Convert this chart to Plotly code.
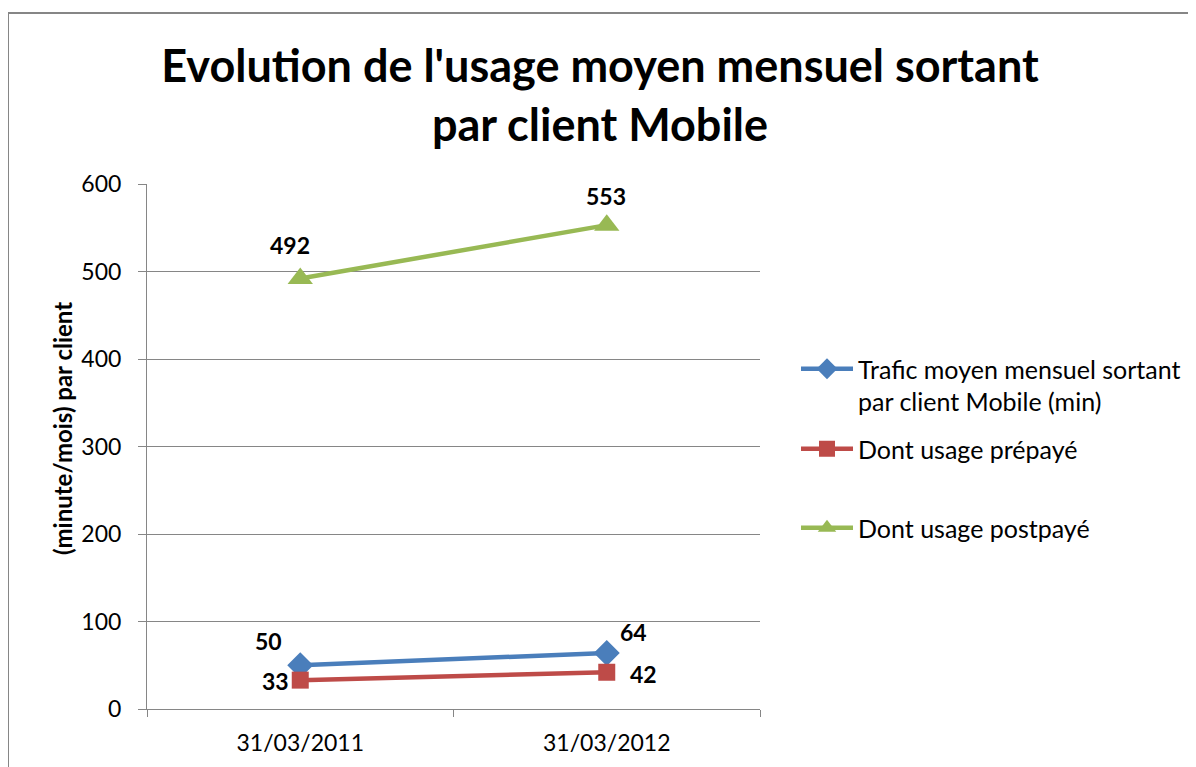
import plotly.graph_objects as go

categories = ["31/03/2011", "31/03/2012"]
trafic_moyen = [50, 64]
usage_prepaye = [33, 42]
usage_postpaye = [492, 553]
series_names = ["Trafic moyen mensuel sortant<br>par client Mobile (min)",
                "Dont usage prépayé", "Dont usage postpayé"]
y_ticks = [0, 100, 200, 300, 400, 500, 600]

FONT = "Lato"
blue, red, green = "#4A7EBB", "#BE4B48", "#98B954"

# the page body has an 8px margin: the figure is sized/offset to compensate
W, H = 1188, 759
L, R, T, B = 139, 436, 176, 58
PW, PH = W - L - R, H - T - B


def px_x(sx):  # screen x -> paper x
    return (sx - 8 - L) / PW


def px_y(sy):  # screen y -> paper y
    return (H - B - (sy - 8)) / PH


fig = go.Figure()
fig.add_trace(go.Scatter(x=categories, y=trafic_moyen, name=series_names[0],
                         mode="lines+markers", line=dict(color=blue, width=4.5),
                         marker=dict(symbol="diamond", size=20, color=blue),
                         legend="legend"))
fig.add_trace(go.Scatter(x=categories, y=usage_prepaye, name=series_names[1],
                         mode="lines+markers", line=dict(color=red, width=4.5),
                         marker=dict(symbol="square", size=17, color=red),
                         legend="legend2"))
fig.add_trace(go.Scatter(x=categories, y=usage_postpaye, name=series_names[2],
                         mode="lines+markers", line=dict(color=green, width=4.5),
                         marker=dict(symbol="triangle-up", size=22, color=green),
                         legend="legend3"))

lab_font = dict(family=FONT, size=23, color="black", weight="bold")
offsets = {
    0: [(-32, 24), (27, 21)],
    1: [(-25, -1), (37, -2)],
    2: [(-10, 34), (-1, 29)],
}
series_vals = [trafic_moyen, usage_prepaye, usage_postpaye]
for si, vals in enumerate(series_vals):
    for ci, v in enumerate(vals):
        dx, dy = offsets[si][ci]
        fig.add_annotation(x=categories[ci], y=v, text="<b>%d</b>" % v, showarrow=False,
                           xshift=dx, yshift=dy, font=lab_font)

# y-axis title (Excel places it slightly above centre)
fig.add_annotation(xref="paper", yref="paper", x=px_x(62), y=px_y(429),
                   text="<b>(minute/mois) par client</b>", textangle=-90,
                   showarrow=False, xanchor="center", yanchor="middle",
                   font=dict(family=FONT, size=24, color="black", weight="bold"))

leg_common = dict(font=dict(family=FONT, size=25, color="black"), itemwidth=52,
                  bgcolor="rgba(0,0,0,0)", xanchor="left", yanchor="middle",
                  valign="top", x=px_x(796))

fig.update_layout(
    width=W, height=H,
    margin=dict(l=L, r=R, t=T, b=B, autoexpand=False),
    paper_bgcolor="white", plot_bgcolor="white",
    title=dict(text="<b>Evolution de l'usage moyen mensuel sortant<br>par client Mobile</b>",
               x=(600 - 8) / W, xanchor="center", y=1 - (82 - 8) / H, yanchor="middle",
               font=dict(family=FONT, size=45, color="black", weight="bold")),
    showlegend=True,
    legend=dict(y=px_y(385), **leg_common),
    legend2=dict(y=px_y(449), **leg_common),
    legend3=dict(y=px_y(528), **leg_common),
    xaxis=dict(type="category", categoryorder="array", categoryarray=categories,
               range=[-0.5, len(categories) - 0.5],
               tickson="boundaries", ticks="outside", ticklen=7, tickcolor="#868686",
               showline=True, linecolor="#868686", linewidth=1, showgrid=False,
               tickfont=dict(family=FONT, size=23, color="black"), ticklabelstandoff=13),
    yaxis=dict(range=[0, 600], tickvals=y_ticks, ticks="outside", ticklen=8,
               tickcolor="#868686", showline=True, linecolor="#868686", linewidth=1,
               showgrid=True, gridcolor="#868686", gridwidth=1, zeroline=False,
               tickfont=dict(family=FONT, size=23, color="black"), ticklabelstandoff=12),
)

# chart area border (left and top edges visible)
bx = px_x(8)
by = px_y(13)
fig.add_shape(type="line", xref="paper", yref="paper", x0=bx, x1=bx, y0=-0.3, y1=by,
              line=dict(color="#868686", width=2))
fig.add_shape(type="line", xref="paper", yref="paper", x0=bx, x1=2.0, y0=by, y1=by,
              line=dict(color="#868686", width=2))

fig.write_html("out.html")
